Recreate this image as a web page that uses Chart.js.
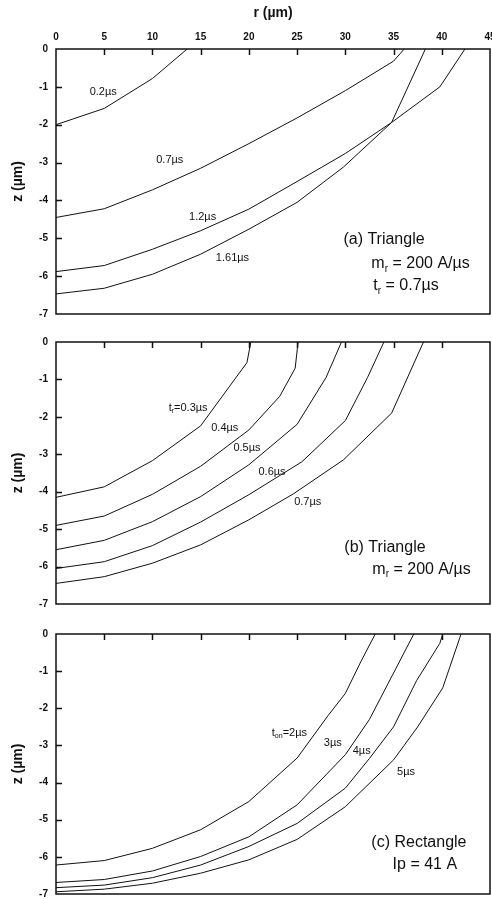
<!DOCTYPE html>
<html lang="en">
<head>
<meta charset="UTF-8">
<title>Crater profiles r-z</title>
<style>
  body { margin: 0; background: #fff; }
  .panel { position: absolute; left: 0; }
</style>
<script src="https://cdn.jsdelivr.net/npm/chart.js"></script>
</head>
<body>
<canvas id="chartA" class="panel" width="492" height="320" style="top:0px"></canvas>
<canvas id="chartB" class="panel" width="492" height="290" style="top:320px"></canvas>
<canvas id="chartC" class="panel" width="492" height="289" style="top:610px"></canvas>
<script>
// axis ticks
const rTicks = [0, 5, 10, 15, 20, 25, 30, 35, 40, 45];
const zTicks = [0, -1, -2, -3, -4, -5, -6, -7];

// (a) triangle, t_r = 0.7us : profiles at several times
const a02R = [0, 5, 10, 13.6];
const a02Z = [-2.0, -1.57, -0.78, 0];
const a07R = [0, 5, 10, 15, 20, 25, 30, 35, 36.1];
const a07Z = [-4.45, -4.22, -3.72, -3.15, -2.5, -1.82, -1.1, -0.32, 0];
const a12R = [0, 5, 10, 15, 20, 25, 30, 34.8, 39.8, 42.4];
const a12Z = [-5.88, -5.72, -5.29, -4.8, -4.23, -3.5, -2.76, -1.94, -1.0, 0];
const a161R = [0, 5, 10, 15, 20, 25, 29.8, 34.8, 38.3];
const a161Z = [-6.47, -6.32, -5.95, -5.42, -4.76, -4.05, -3.12, -1.94, 0];

// (b) triangle, different rise times
const b03R = [0, 5, 10, 15, 19.8, 20.2];
const b03Z = [-4.15, -3.87, -3.17, -2.24, -0.55, 0];
const b04R = [0, 5, 10, 15, 20, 23.2, 24.8, 25.1];
const b04Z = [-4.9, -4.65, -4.07, -3.32, -2.35, -1.45, -0.7, 0];
const b05R = [0, 5, 10, 15, 20, 25, 28, 29.6];
const b05Z = [-5.55, -5.3, -4.8, -4.13, -3.28, -2.2, -0.95, 0];
const b06R = [0, 5, 10, 15, 20, 25.5, 30, 32.3, 34];
const b06Z = [-6.05, -5.87, -5.44, -4.81, -4.08, -3.2, -2.1, -0.95, 0];
const b07R = [0, 5, 10, 15, 20, 24.6, 29.8, 34.8, 38.1];
const b07Z = [-6.45, -6.27, -5.91, -5.42, -4.75, -4.06, -3.15, -1.9, 0];

// (c) rectangle, Ip = 41 A, different pulse durations
const c2R = [0, 5, 10, 15, 20, 25, 28.2, 30, 31.6, 33.1];
const c2Z = [-6.22, -6.1, -5.77, -5.27, -4.51, -3.34, -2.2, -1.6, -0.75, 0];
const c3R = [0, 5, 10, 15, 20, 25, 30, 32.5, 34.9, 37.1];
const c3Z = [-6.69, -6.61, -6.38, -5.99, -5.46, -4.6, -3.25, -2.3, -1.1, 0];
const c4R = [0, 5, 10, 15, 20, 25, 30, 32.5, 35, 37.4, 39.8, 40.1];
const c4Z = [-6.83, -6.76, -6.56, -6.22, -5.72, -5.1, -4.15, -3.35, -2.5, -1.25, -0.25, 0];
const c5R = [0, 5, 10, 15, 20, 25, 30, 35, 37.5, 40.1, 42];
const c5Z = [-6.94, -6.87, -6.71, -6.44, -6.08, -5.53, -4.65, -3.39, -2.5, -1.45, 0];

Chart.defaults.font.family = '"Liberation Sans", Arial, Helvetica, sans-serif';
Chart.defaults.color = '#111';

// box round the plot and inward tick marks
const frame = {
  id: 'frame',
  afterDraw(chart) {
    const {ctx, chartArea: a, scales: {x, y}} = chart;
    ctx.save();
    ctx.strokeStyle = '#111';
    ctx.lineWidth = 1.5;
    ctx.strokeRect(a.left, a.top, a.right - a.left, a.bottom - a.top);
    ctx.beginPath();
    zTicks.slice(1, -1).forEach(v => {
      const py = Math.round(y.getPixelForValue(v)) + 0.5;
      ctx.moveTo(a.left, py);
      ctx.lineTo(a.left + 6, py);
    });
    rTicks.slice(1, -1).forEach(v => {
      const px = Math.round(x.getPixelForValue(v)) + 0.5;
      ctx.moveTo(px, a.top);
      ctx.lineTo(px, a.top + 6);
    });
    ctx.stroke();
    ctx.restore();
  }
};

// curve names and panel captions, parts starting with "_" are subscripts
const notes = {
  id: 'notes',
  afterDraw(chart, args, opts) {
    const {ctx, scales: {x, y}} = chart;
    ctx.save();
    ctx.fillStyle = '#111';
    ctx.textBaseline = 'middle';
    (opts.items || []).forEach(n => {
      const main = n.size + 'px "Liberation Sans", Arial, sans-serif';
      const small = Math.round(n.size * 0.62) + 'px "Liberation Sans", Arial, sans-serif';
      let w = 0;
      n.parts.forEach(p => {
        ctx.font = p[0] === '_' ? small : main;
        w += ctx.measureText(p[0] === '_' ? p.slice(1) : p).width;
      });
      let px = x.getPixelForValue(n.r);
      const py = y.getPixelForValue(n.z);
      if (n.align === 'center') px -= w / 2;
      n.parts.forEach(p => {
        const sub = p[0] === '_';
        const t = sub ? p.slice(1) : p;
        ctx.font = sub ? small : main;
        ctx.fillText(t, px, sub ? py + n.size * 0.3 : py);
        px += ctx.measureText(t).width;
      });
    });
    ctx.restore();
  }
};

function makeChart(id, series, items, showTop, topH, bottomPad) {
  return new Chart(document.getElementById(id), {
    type: 'line',
    data: {
      datasets: series.map(s => ({
        data: s[0].map((r, i) => ({x: r, y: s[1][i]})),
        borderColor: '#111',
        borderWidth: 1,
        pointRadius: 0,
        fill: false,
        tension: 0
      }))
    },
    options: {
      responsive: false,
      animation: false,
      layout: {padding: {top: 0, right: 2, bottom: bottomPad, left: 0}},
      plugins: {
        legend: {display: false},
        tooltip: {enabled: false},
        notes: {items: items}
      },
      scales: {
        x: {
          type: 'linear', position: 'top', min: 0, max: 45,
          afterBuildTicks: s => { s.ticks = rTicks.map(v => ({value: v})); },
          ticks: {display: showTop, padding: 6, font: {size: 10, weight: 'bold'}},
          grid: {display: false, drawTicks: false},
          border: {display: false},
          title: {display: showTop, text: 'r (µm)', font: {size: 14, weight: 'bold'}, padding: {top: 5, bottom: 0}},
          afterFit: s => { s.height = topH; s.paddingLeft = 0; s.paddingRight = 0; }
        },
        y: {
          type: 'linear', min: -7, max: 0,
          afterBuildTicks: s => { s.ticks = zTicks.map(v => ({value: v})); },
          ticks: {padding: 8, font: {size: 10, weight: 'bold'}},
          grid: {display: false, drawTicks: false},
          border: {display: false},
          title: {display: true, text: 'z (µm)', font: {size: 14, weight: 'bold'}, padding: {top: 10, bottom: 0}},
          afterFit: s => { s.width = 56; s.paddingTop = 0; s.paddingBottom = 0; }
        }
      }
    },
    plugins: [frame, notes]
  });
}

makeChart('chartA',
  [[a02R, a02Z], [a07R, a07Z], [a12R, a12Z], [a161R, a161Z]],
  [
    {parts: ['0.2µs'], r: 4.9, z: -1.13, size: 11, align: 'center'},
    {parts: ['0.7µs'], r: 11.8, z: -2.94, size: 11, align: 'center'},
    {parts: ['1.2µs'], r: 15.2, z: -4.45, size: 11, align: 'center'},
    {parts: ['1.61µs'], r: 18.3, z: -5.51, size: 11, align: 'center'},
    {parts: ['(a) Triangle'], r: 29.8, z: -5.04, size: 16, align: 'left'},
    {parts: ['m', '_r', ' = 200 A/µs'], r: 32.7, z: -5.68, size: 16, align: 'left'},
    {parts: ['t', '_r', ' = 0.7µs'], r: 32.9, z: -6.26, size: 16, align: 'left'}
  ], true, 49, 6);

makeChart('chartB',
  [[b03R, b03Z], [b04R, b04Z], [b05R, b05Z], [b06R, b06Z], [b07R, b07Z]],
  [
    {parts: ['t', '_r', '=0.3µs'], r: 13.7, z: -1.76, size: 11, align: 'center'},
    {parts: ['0.4µs'], r: 17.5, z: -2.29, size: 11, align: 'center'},
    {parts: ['0.5µs'], r: 19.8, z: -2.83, size: 11, align: 'center'},
    {parts: ['0.6µs'], r: 22.4, z: -3.47, size: 11, align: 'center'},
    {parts: ['0.7µs'], r: 26.1, z: -4.27, size: 11, align: 'center'},
    {parts: ['(b) Triangle'], r: 29.9, z: -5.5, size: 16, align: 'left'},
    {parts: ['m', '_r', ' = 200 A/µs'], r: 32.8, z: -6.08, size: 16, align: 'left'}
  ], false, 22, 6);

makeChart('chartC',
  [[c2R, c2Z], [c3R, c3Z], [c4R, c4Z], [c5R, c5Z]],
  [
    {parts: ['t', '_on', '=2µs'], r: 24.2, z: -2.66, size: 11, align: 'center'},
    {parts: ['3µs'], r: 28.7, z: -2.93, size: 11, align: 'center'},
    {parts: ['4µs'], r: 31.7, z: -3.15, size: 11, align: 'center'},
    {parts: ['5µs'], r: 36.3, z: -3.72, size: 11, align: 'center'},
    {parts: ['(c) Rectangle'], r: 32.7, z: -5.62, size: 16, align: 'left'},
    {parts: ['Ip = 41 A'], r: 34.9, z: -6.21, size: 16, align: 'left'}
  ], false, 24, 5);
</script>
</body>
</html>
